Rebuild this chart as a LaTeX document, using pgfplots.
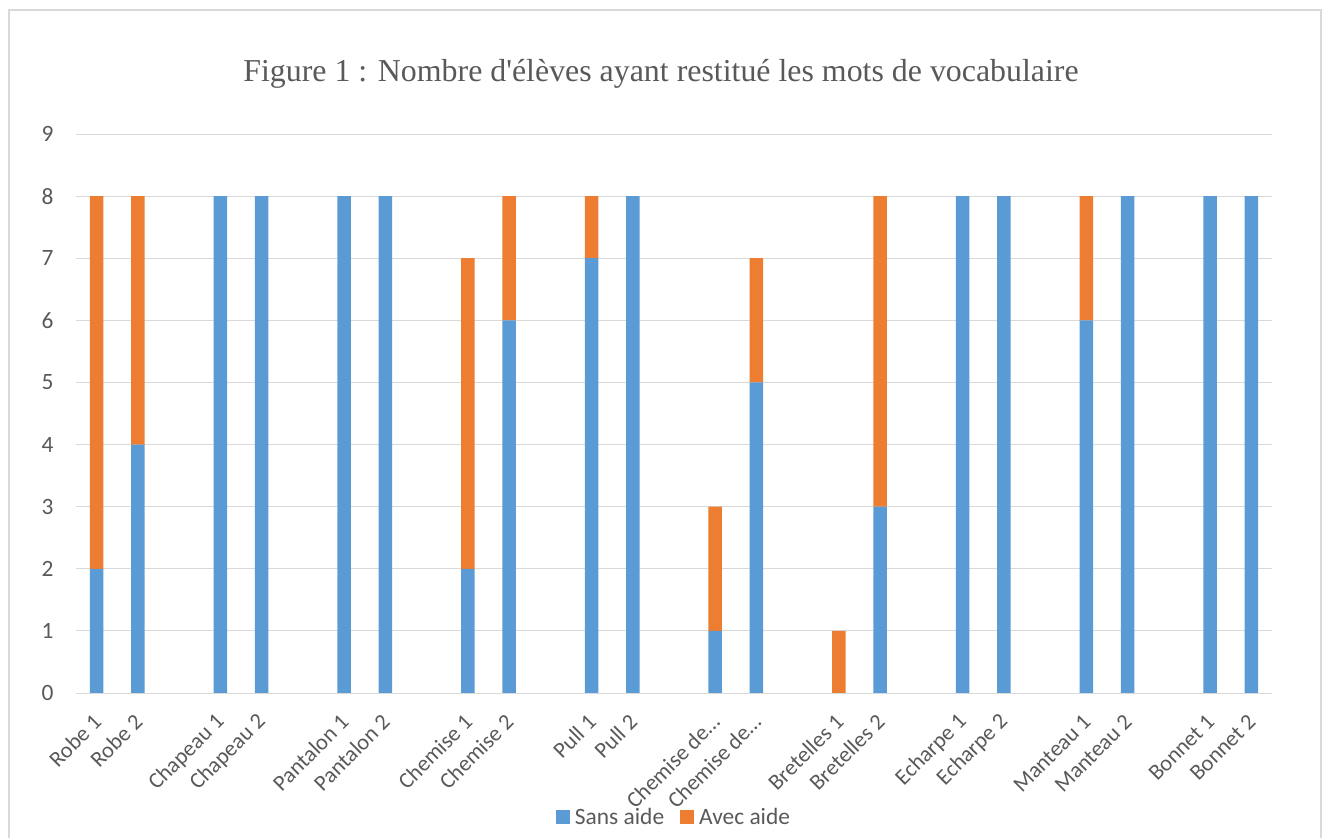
\documentclass[border=0pt]{standalone}
\usepackage{pgfplots}
\usepackage{pgfplotstable}
\pgfplotsset{compat=1.18}
\usepackage{fontspec}
\setmainfont{Liberation Serif}
\newfontfamily\calibri{Carlito}
\definecolor{cblue}{HTML}{5B9BD5}
\definecolor{corange}{HTML}{ED7D31}
\definecolor{cgrid}{HTML}{D9D9D9}
\definecolor{ctext}{HTML}{595959}
\pgfplotstableread{
x sans avec
0 2 6
1 4 4
3 8 0
4 8 0
6 8 0
7 8 0
9 2 5
10 6 2
12 7 1
13 8 0
15 1 2
16 5 2
18 0 1
19 3 5
21 8 0
22 8 0
24 6 2
25 8 0
27 8 0
28 8 0
}\datatable
\begin{document}
\begin{tikzpicture}[x=1bp,y=1bp]
\useasboundingbox (0bp,0bp) rectangle (1328bp,838bp);
\draw[cgrid, line width=1.5bp] (9bp,-2bp) -- (9bp,828bp) -- (1321bp,828bp) -- (1321bp,-2bp);
\node[anchor=base, font=\fontsize{32}{34}\selectfont, text=ctext] at (661bp,756bp) {Figure 1 : Nombre d\textquotesingle élèves ayant restitué les mots de vocabulaire};
\begin{axis}[
  at={(76bp,145bp)}, anchor=south west,
  scale only axis, width=1196bp, height=559bp,
  xmin=-0.5, xmax=28.5, ymin=0, ymax=9,
  ytick={0,1,...,9},
  xtick={0,1,3,4,6,7,9,10,12,13,15,16,18,19,21,22,24,25,27,28},
  xticklabels={Robe 1,Robe 2,Chapeau 1,Chapeau 2,Pantalon 1,Pantalon 2,Chemise 1,Chemise 2,Pull 1,Pull 2,Chemise de…,Chemise de…,Bretelles 1,Bretelles 2,Echarpe 1,Echarpe 2,Manteau 1,Manteau 2,Bonnet 1,Bonnet 2},
  ymajorgrids, grid style={cgrid, line width=1bp},
  axis line style={draw=none},
  major tick length=0pt,
  /pgf/number format/assume math mode=true,
  yticklabel style={font=\calibri\fontsize{23.5}{24}\selectfont, text=ctext, xshift=-19bp},
  xticklabel style={font=\calibri\fontsize{22.5}{24}\selectfont, text=ctext, xshift=3bp, yshift=-23bp, rotate=45, anchor=east},
  ybar stacked, bar width=13.5bp,
  legend style={at={(0.5,-0.222)}, anchor=center, draw=none, fill=none, legend columns=2,
    font=\calibri\fontsize{23.5}{24}\selectfont, text=ctext,
    /tikz/every odd column/.append style={column sep=3bp},
    /tikz/every even column/.append style={column sep=14bp}},
  legend image code/.code={\fill[#1] (0bp,-7bp) rectangle (14bp,7bp);},
]
\addplot[fill=cblue, draw=none] table[x=x, y=sans] {\datatable};
\addplot[fill=corange, draw=none] table[x=x, y=avec] {\datatable};
\legend{Sans aide, Avec aide}
\end{axis}
\end{tikzpicture}
\end{document}
